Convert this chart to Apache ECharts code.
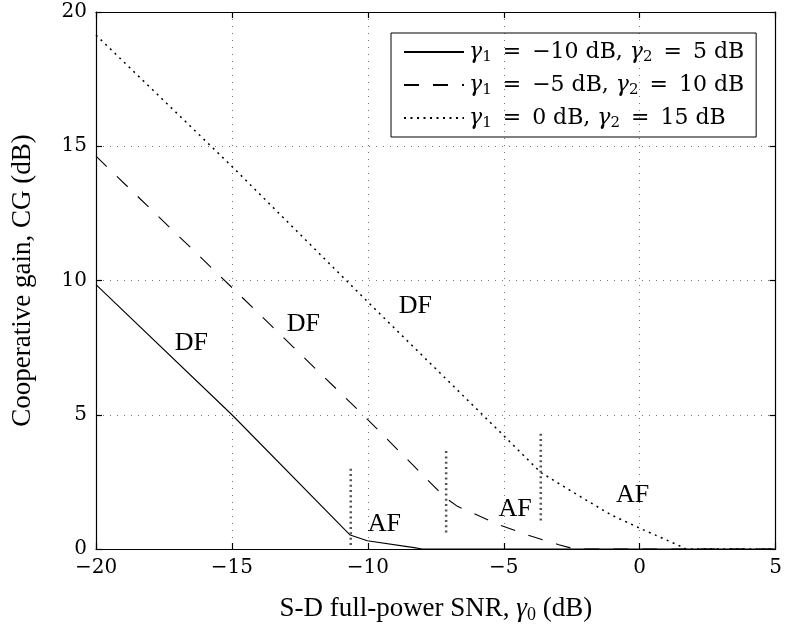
<!DOCTYPE html>
<html>
<head>
<meta charset="utf-8">
<script src="https://cdn.jsdelivr.net/npm/echarts@6/dist/echarts.min.js"></script>
<style>
  html, body { margin: 0; padding: 0; background: #fff; }
  #chart { width: 785px; height: 632px; }
</style>
</head>
<body>
<div id="chart"></div>
<script>
// S-D full-power SNR (dB) vs cooperative gain (dB), one array pair per curve
const snrSolid = [-20, -15, -10.65, -10.02, -8.3, -8.0, 5]
const cgSolid = [9.85, 5.0, 0.52, 0.31, 0.05, 0, 0]

const snrDashed = [-20, -15, -10.18, -7.14, -6.69, -5.16, -4.12, -3.01, -2.4, 5]
const cgDashed = [14.63, 9.74, 5.0, 1.9, 1.58, 0.9, 0.52, 0.17, 0, 0]

const snrDotted = [-20, -15, -10, -5, -3.64, -2.28, -1.05, 0.01, 1.4, 1.7, 5]
const cgDotted = [19.14, 14.25, 9.2, 4.22, 2.85, 2.01, 1.27, 0.77, 0.15, 0, 0]

// DF/AF switching points (vertical markers)
const switchSnr = [-10.63, -7.12, -3.64]
const switchLow = [0.15, 0.61, 1.06]
const switchHigh = [3.01, 3.72, 4.38]

// region labels
const regionSnr = [-16.49, -12.37, -8.25, -9.39, -4.58, -0.26]
const regionCg = [7.65, 8.36, 9.06, 0.91, 1.5, 2.0]
const regionText = ['DF', 'DF', 'DF', 'AF', 'AF', 'AF']

// legend
const gamma1 = ['−10', '−5', '0']
const gamma2 = ['5', '10', '15']
const seriesNames = ['curve1', 'curve2', 'curve3']

const xTicks = { min: -20, max: 5, interval: 5 }
const yTicks = { min: 0, max: 20, interval: 5 }

const serif = 'Liberation Serif'
const mathFont = 'DejaVu Serif'
const EQ = '\u2002=\u2002'

function zip(xs, ys) {
  return xs.map((x, i) => [x, ys[i]])
}

function legendLabel(name) {
  const i = seriesNames.indexOf(name)
  return '{i|γ}{s|1}{n|' + EQ + gamma1[i] + ' dB, }{i|γ}{s|2}{n|' + EQ + gamma2[i] + ' dB}'
}

const minus = v => String(v).replace('-', '−')

const chart = echarts.init(document.getElementById('chart'))

const series = [
  {
    name: seriesNames[0],
    type: 'line',
    symbol: 'none',
    lineStyle: { color: '#000', width: 1.1, type: 'solid' },
    data: zip(snrSolid, cgSolid)
  },
  {
    name: seriesNames[1],
    type: 'line',
    symbol: 'none',
    lineStyle: { color: '#000', width: 1.1, type: [15, 14] },
    data: zip(snrDashed, cgDashed)
  },
  {
    name: seriesNames[2],
    type: 'line',
    symbol: 'none',
    lineStyle: { color: '#000', width: 1.5, type: [2, 4.5] },
    data: zip(snrDotted, cgDotted)
  }
]

switchSnr.forEach((x, i) => {
  series.push({
    name: 'switch' + i,
    type: 'line',
    symbol: 'none',
    silent: true,
    lineStyle: { color: '#555', width: 2.5, type: [2, 3.3] },
    data: [[x, switchLow[i]], [x, switchHigh[i]]]
  })
})

series.push({
  name: 'regions',
  type: 'scatter',
  symbolSize: 1,
  silent: true,
  itemStyle: { color: 'rgba(0,0,0,0)', opacity: 1 },
  label: {
    show: true,
    position: 'inside',
    formatter: p => p.data[2],
    color: '#000',
    opacity: 1,
    textBorderWidth: 0,
    fontFamily: serif,
    fontSize: 26
  },
  data: regionSnr.map((x, i) => [x, regionCg[i], regionText[i]])
})

const frameAxis = {
  axisLine: { show: true, onZero: false, lineStyle: { color: '#000', width: 1.2 } },
  axisTick: { show: true, inside: true, length: 6, lineStyle: { color: '#000', width: 1.2 } }
}

const option = {
  backgroundColor: '#fff',
  animation: false,
  grid: { left: 96, right: 6, top: 12, bottom: 83 },
  legend: {
    data: seriesNames,
    orient: 'vertical',
    left: 391,
    top: 33,
    itemWidth: 60,
    itemHeight: 14,
    itemGap: 9,
    padding: [8, 12, 6, 12],
    borderColor: '#000',
    borderWidth: 1,
    itemStyle: { opacity: 0 },
    formatter: legendLabel,
    textStyle: {
      color: '#000',
      fontFamily: mathFont,
      fontSize: 22,
      rich: {
        i: { fontFamily: mathFont, fontStyle: 'italic', fontSize: 22, lineHeight: 26 },
        s: { fontFamily: mathFont, fontSize: 15, lineHeight: 15, verticalAlign: 'bottom' },
        n: { fontFamily: mathFont, fontSize: 22, lineHeight: 26 }
      }
    }
  },
  xAxis: [
    Object.assign({
      type: 'value',
      min: xTicks.min,
      max: xTicks.max,
      interval: xTicks.interval,
      name: '{n|S-D full-power SNR, }{i|γ}{s|0}{n| (dB)}',
      nameLocation: 'middle',
      nameGap: 45,
      nameTextStyle: {
        color: '#000',
        rich: {
          n: { fontFamily: serif, fontSize: 27, lineHeight: 30 },
          i: { fontFamily: serif, fontStyle: 'italic', fontSize: 27, lineHeight: 30 },
          s: { fontFamily: serif, fontSize: 18, lineHeight: 18, verticalAlign: 'bottom' }
        }
      },
      axisLabel: { color: '#000', fontFamily: mathFont, fontSize: 20, margin: 9, formatter: minus },
      splitLine: { show: true, lineStyle: { color: '#777', width: 1, type: [1, 6] } }
    }, frameAxis),
    Object.assign({
      type: 'value',
      position: 'top',
      min: xTicks.min,
      max: xTicks.max,
      interval: xTicks.interval,
      axisLabel: { show: false },
      splitLine: { show: false }
    }, frameAxis)
  ],
  yAxis: [
    Object.assign({
      type: 'value',
      min: yTicks.min,
      max: yTicks.max,
      interval: yTicks.interval,
      name: 'Cooperative gain, CG (dB)',
      nameLocation: 'middle',
      nameGap: 60,
      nameTextStyle: { color: '#000', fontFamily: serif, fontSize: 27 },
      axisLabel: { color: '#000', fontFamily: mathFont, fontSize: 20, margin: 9, formatter: minus },
      splitLine: { show: true, lineStyle: { color: '#777', width: 1, type: [1, 6] } }
    }, frameAxis),
    Object.assign({
      type: 'value',
      position: 'right',
      min: yTicks.min,
      max: yTicks.max,
      interval: yTicks.interval,
      axisLabel: { show: false },
      splitLine: { show: false }
    }, frameAxis)
  ],
  series: series
}

chart.setOption(option)
</script>
</body>
</html>
